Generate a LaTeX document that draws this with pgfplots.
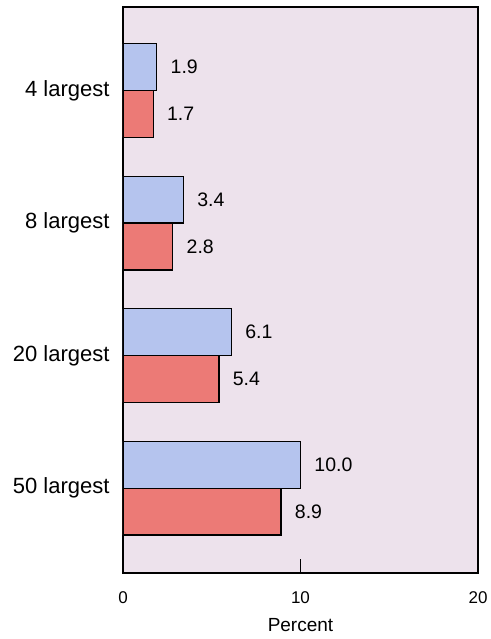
\documentclass[border=0pt]{standalone}
\usepackage{fontspec}
\setmainfont{Liberation Sans}
\usepackage{pgfplots}
\pgfplotsset{compat=1.18}
\definecolor{bgpink}{RGB}{237,226,236}
\definecolor{barblue}{RGB}{181,196,238}
\definecolor{barred}{RGB}{236,122,118}
\begin{document}
\begin{tikzpicture}
\path (-123pt,-66pt) rectangle (365pt,573pt);
\begin{axis}[
  scale only axis,
  width=355pt, height=566pt,
  xmin=0, xmax=20,
  ymin=-0.63, ymax=3.64,
  y dir=reverse,
  axis background/.style={fill=bgpink},
  axis line style={line width=1.8pt},
  xtick={0,10,20},
  tick pos=bottom,
  tick align=inside,
  xtick style={line width=1.8pt, black},
  major tick length=14pt,
  ytick={0,1,2,3},
  yticklabels={4 largest,8 largest,20 largest,50 largest},
  y tick style={draw=none},
  yticklabel style={xshift=4pt, font=\fontsize{22}{26}\selectfont},
  xticklabel style={yshift=-15pt, font=\fontsize{17}{20}\selectfont},
  xlabel={Percent},
  xlabel style={yshift=-8pt, font=\fontsize{19}{22}\selectfont},
  /pgf/number format/assume math mode=true,
  xbar,
  bar width=0.353,
  nodes near coords,
  nodes near coords align={horizontal},
  every node near coord/.append style={anchor=west, xshift=10pt, black, font=\fontsize{19.5}{23}\selectfont},
  point meta=explicit symbolic,
]
\addplot[fill=barblue, draw=black, line width=1.3pt, bar shift=-0.1765]
  coordinates {(1.9,0) [1.9] (3.4,1) [3.4] (6.1,2) [6.1] (10.0,3) [10.0]};
\addplot[fill=barred, draw=black, line width=1.3pt, bar shift=0.1765]
  coordinates {(1.7,0) [1.7] (2.8,1) [2.8] (5.4,2) [5.4] (8.9,3) [8.9]};
\end{axis}
\end{tikzpicture}
\end{document}
